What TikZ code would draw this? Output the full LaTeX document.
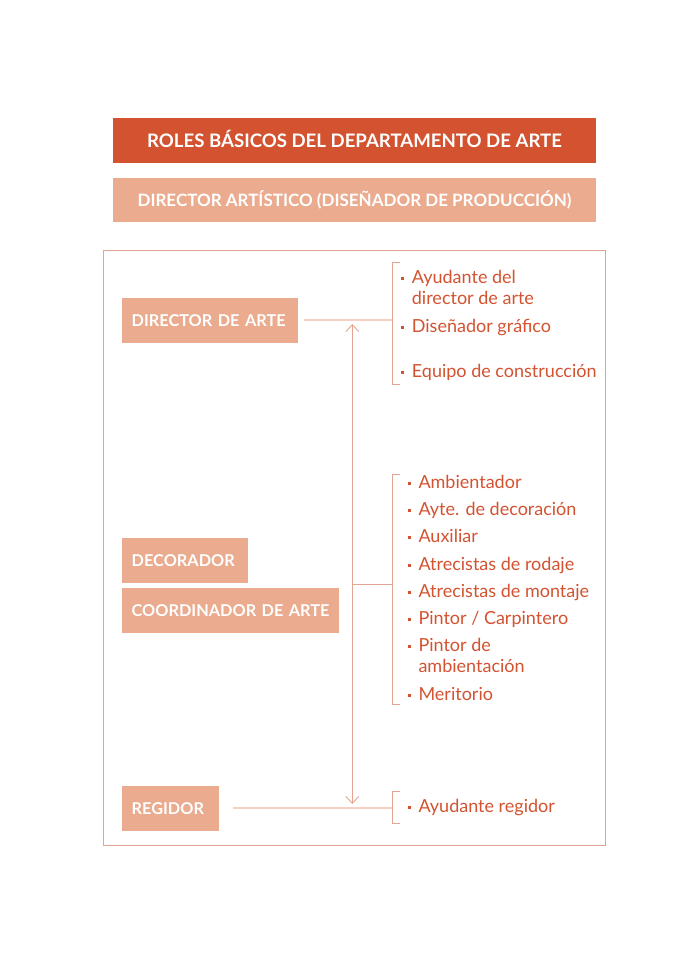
\documentclass[tikz,border=0pt]{standalone}
\usepackage{fontspec}
\setmainfont{Lato}
\usetikzlibrary{arrows.meta}

\definecolor{rojo}{HTML}{D35230}
\definecolor{salmon}{HTML}{EAAB8F}
\definecolor{marco}{HTML}{E2A593}
\definecolor{rosa}{HTML}{F6D0C4}

\begin{document}
\begin{tikzpicture}[x=1pt, y=-1pt,
    rol/.style={fill=salmon, text=white, anchor=north west, inner xsep=9.5pt,
      text width=#1, align=left, minimum height=45pt, text height=12pt, text depth=0pt,
      font=\bfseries\fontsize{16.3}{18}\selectfont},
    cabecera/.style={text=white, minimum width=482.7pt, text height=13.5pt, text depth=0pt,
      font=\bfseries\fontsize{18.6}{22}\selectfont},
    item/.style={text=rojo, anchor=base west, inner sep=0pt, font=\fontsize{18}{20}\selectfont},
    llave/.style={draw=marco, line width=0.8pt},
    enlace/.style={draw=rosa, line width=2pt},
    flecha/.style={draw=marco, line width=0.9pt},
    punta/.tip={Straight Barb[length=7pt, width=13pt]}]

  \useasboundingbox (0,0) rectangle (681,964);

  % cabeceras
  \node[cabecera, fill=rojo, minimum height=45pt] (titulo) at (354.5,140.8)
    {ROLES BÁSICOS DEL DEPARTAMENTO DE ARTE};
  \node[cabecera, fill=salmon, minimum height=44pt, font=\bfseries\fontsize{17}{20}\selectfont]
    (director) at (354.5,199.7) {DIRECTOR ARTÍSTICO (DISEÑADOR DE PRODUCCIÓN)};

  \draw[marco, line width=0.8pt] (103,250) rectangle (605,845);

  % roles
  \node[rol=156.7pt] (dirarte) at (122,297.3) {DIRECTOR DE ARTE};
  \node[rol=106.7pt] (decor) at (122,538) {DECORADOR};
  \node[rol=198pt] (coord) at (122,587.3) {COORDINADOR DE ARTE};
  \node[rol=77.3pt] (regidor) at (122,785.7) {REGIDOR};

  % llaves
  \coordinate (b1) at (392,320);
  \coordinate (b2) at (392,584.3);
  \coordinate (b3) at (392,807.7);
  \coordinate (eje) at (352.3,584.3);
  \coordinate (arriba) at (352.3,324);
  \coordinate (abajo) at (352.3,804);
  \draw[llave] (400,262.3) -| (392,384) -- (400,384);
  \draw[llave] (400,474) -| (392,704.3) -- (400,704.3);
  \draw[llave] (400,791.7) -| (392,823.3) -- (400,823.3);

  \draw[enlace, shorten <=6.3pt] (dirarte.east |- b1) -- (b1);
  \draw[enlace, shorten <=14pt] (regidor.east |- b3) -- (b3);
  \draw[flecha, punta-punta] (arriba) -- (abajo);
  \draw[flecha] (eje) -- (b2);

  % listas
  \foreach \y/\t in {283/Ayudante del, 332/Diseñador gráfico, 377.7/Equipo de construcción} {
    \fill[rojo] (401.2,\y-6.5) rectangle +(3,3);
    \node[item] at (411.7,\y) {\t};
  }
  \node[item] at (411.7,304) {director de arte};

  \foreach \y/\t in {488.3/Ambientador, 515.6/Ayte. de decoración, 542.8/Auxiliar,
      570/Atrecistas de rodaje, 597.3/Atrecistas de montaje, 624.5/{Pintor / Carpintero},
      651.8/Pintor de, 700.7/Meritorio, 812.3/Ayudante regidor} {
    \fill[rojo] (407.8,\y-6.5) rectangle +(3,3);
    \node[item] at (418.3,\y) {\t};
  }
  \node[item] at (418.3,672.7) {ambientación};
\end{tikzpicture}
\end{document}
